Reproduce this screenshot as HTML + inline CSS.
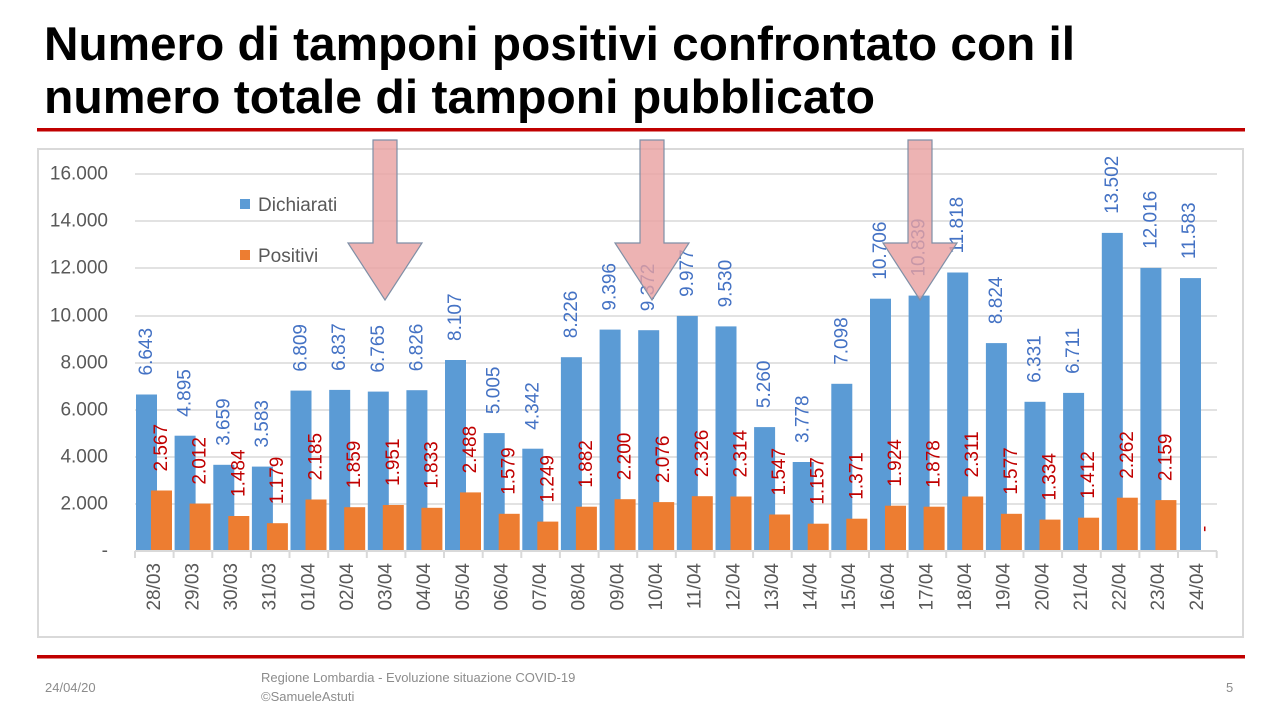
<!DOCTYPE html>
<html><head><meta charset="utf-8"><style>
html,body{margin:0;padding:0;background:#fff;width:1280px;height:720px;overflow:hidden}
svg{display:block;font-family:"Liberation Sans",sans-serif}
.b{fill:#5B9BD5}.o{fill:#ED7D31}
.lb{fill:#4472C4;font-size:19px}.lo{fill:#C00000;font-size:19px}
.ax{fill:#595959;font-size:19px}
.g{stroke:#D9D9D9;stroke-width:1.5}
</style></head><body>
<svg width="1280" height="720" viewBox="0 0 1280 720">
<text x="44" y="60" font-size="47" font-weight="bold" fill="#000" textLength="1031" lengthAdjust="spacingAndGlyphs">Numero di tamponi positivi confrontato con il</text>
<text x="44" y="113" font-size="47" font-weight="bold" fill="#000" textLength="831" lengthAdjust="spacingAndGlyphs">numero totale di tamponi pubblicato</text>
<rect x="37" y="128" width="1208" height="3.5" fill="#C00000"/>
<rect x="37" y="655" width="1208" height="3.5" fill="#C00000"/>
<rect x="38" y="149" width="1205" height="488" fill="none" stroke="#D9D9D9" stroke-width="2"/>
<g class="g">
<line x1="135" y1="174" x2="1217" y2="174"/><line x1="135" y1="221" x2="1217" y2="221"/>
<line x1="135" y1="268" x2="1217" y2="268"/><line x1="135" y1="316" x2="1217" y2="316"/>
<line x1="135" y1="363" x2="1217" y2="363"/><line x1="135" y1="410" x2="1217" y2="410"/>
<line x1="135" y1="457" x2="1217" y2="457"/><line x1="135" y1="504" x2="1217" y2="504"/>
</g>
<g class="ax" text-anchor="end" dominant-baseline="central">
<text x="108" y="174">16.000</text><text x="108" y="221">14.000</text><text x="108" y="268">12.000</text>
<text x="108" y="316">10.000</text><text x="108" y="363">8.000</text><text x="108" y="410">6.000</text>
<text x="108" y="457">4.000</text><text x="108" y="504">2.000</text><text x="108" y="551">-</text>
</g>
<rect x="240" y="199" width="10" height="10" class="b"/><text x="258" y="211" font-size="19" fill="#595959">Dichiarati</text>
<rect x="240" y="250" width="10" height="10" class="o"/><text x="258" y="262" font-size="19" fill="#595959">Positivi</text>
<g>
<rect x="136" y="394.5" width="21" height="156.5" class="b"/><rect x="151" y="490.5" width="21" height="60.5" class="o"/>
<rect x="174.6" y="435.7" width="21" height="115.3" class="b"/><rect x="189.6" y="503.6" width="21" height="47.4" class="o"/>
<rect x="213.3" y="464.8" width="21" height="86.2" class="b"/><rect x="228.3" y="516" width="21" height="35" class="o"/>
<rect x="251.9" y="466.6" width="21" height="84.4" class="b"/><rect x="266.9" y="523.2" width="21" height="27.8" class="o"/>
<rect x="290.5" y="390.6" width="21" height="160.4" class="b"/><rect x="305.5" y="499.5" width="21" height="51.5" class="o"/>
<rect x="329.2" y="389.9" width="21" height="161.1" class="b"/><rect x="344.2" y="507.2" width="21" height="43.8" class="o"/>
<rect x="367.8" y="391.6" width="21" height="159.4" class="b"/><rect x="382.8" y="505" width="21" height="46" class="o"/>
<rect x="406.4" y="390.2" width="21" height="160.8" class="b"/><rect x="421.4" y="507.8" width="21" height="43.2" class="o"/>
<rect x="445" y="360" width="21" height="191" class="b"/><rect x="460" y="492.4" width="21" height="58.6" class="o"/>
<rect x="483.7" y="433.1" width="21" height="117.9" class="b"/><rect x="498.7" y="513.8" width="21" height="37.2" class="o"/>
<rect x="522.3" y="448.7" width="21" height="102.3" class="b"/><rect x="537.3" y="521.6" width="21" height="29.4" class="o"/>
<rect x="560.9" y="357.2" width="21" height="193.8" class="b"/><rect x="575.9" y="506.7" width="21" height="44.3" class="o"/>
<rect x="599.6" y="329.6" width="21" height="221.4" class="b"/><rect x="614.6" y="499.2" width="21" height="51.8" class="o"/>
<rect x="638.2" y="330.2" width="21" height="220.8" class="b"/><rect x="653.2" y="502.1" width="21" height="48.9" class="o"/>
<rect x="676.8" y="315.9" width="21" height="235.1" class="b"/><rect x="691.8" y="496.2" width="21" height="54.8" class="o"/>
<rect x="715.5" y="326.4" width="21" height="224.6" class="b"/><rect x="730.5" y="496.5" width="21" height="54.5" class="o"/>
<rect x="754.1" y="427.1" width="21" height="123.9" class="b"/><rect x="769.1" y="514.5" width="21" height="36.5" class="o"/>
<rect x="792.7" y="462" width="21" height="89" class="b"/><rect x="807.7" y="523.7" width="21" height="27.3" class="o"/>
<rect x="831.3" y="383.8" width="21" height="167.2" class="b"/><rect x="846.3" y="518.7" width="21" height="32.3" class="o"/>
<rect x="870" y="298.7" width="21" height="252.3" class="b"/><rect x="885" y="505.7" width="21" height="45.3" class="o"/>
<rect x="908.6" y="295.6" width="21" height="255.4" class="b"/><rect x="923.6" y="506.7" width="21" height="44.3" class="o"/>
<rect x="947.2" y="272.5" width="21" height="278.5" class="b"/><rect x="962.2" y="496.5" width="21" height="54.5" class="o"/>
<rect x="985.9" y="343.1" width="21" height="207.9" class="b"/><rect x="1000.9" y="513.8" width="21" height="37.2" class="o"/>
<rect x="1024.5" y="401.8" width="21" height="149.2" class="b"/><rect x="1039.5" y="519.6" width="21" height="31.4" class="o"/>
<rect x="1063.1" y="392.9" width="21" height="158.1" class="b"/><rect x="1078.1" y="517.7" width="21" height="33.3" class="o"/>
<rect x="1101.8" y="232.9" width="21" height="318.1" class="b"/><rect x="1116.8" y="497.7" width="21" height="53.3" class="o"/>
<rect x="1140.4" y="267.9" width="21" height="283.1" class="b"/><rect x="1155.4" y="500.1" width="21" height="50.9" class="o"/>
<rect x="1180" y="278.1" width="21" height="272.9" class="b"/>
</g>
<line x1="135" y1="551" x2="1217" y2="551" stroke="#D9D9D9" stroke-width="2"/>
<g stroke="#D9D9D9" stroke-width="2">
<line x1="135" y1="551" x2="135" y2="558"/><line x1="173.6" y1="551" x2="173.6" y2="558"/><line x1="212.3" y1="551" x2="212.3" y2="558"/><line x1="250.9" y1="551" x2="250.9" y2="558"/><line x1="289.5" y1="551" x2="289.5" y2="558"/><line x1="328.2" y1="551" x2="328.2" y2="558"/><line x1="366.8" y1="551" x2="366.8" y2="558"/><line x1="405.4" y1="551" x2="405.4" y2="558"/><line x1="444" y1="551" x2="444" y2="558"/><line x1="482.7" y1="551" x2="482.7" y2="558"/><line x1="521.3" y1="551" x2="521.3" y2="558"/><line x1="559.9" y1="551" x2="559.9" y2="558"/><line x1="598.6" y1="551" x2="598.6" y2="558"/><line x1="637.2" y1="551" x2="637.2" y2="558"/><line x1="675.8" y1="551" x2="675.8" y2="558"/><line x1="714.5" y1="551" x2="714.5" y2="558"/><line x1="753.1" y1="551" x2="753.1" y2="558"/><line x1="791.7" y1="551" x2="791.7" y2="558"/><line x1="830.3" y1="551" x2="830.3" y2="558"/><line x1="869" y1="551" x2="869" y2="558"/><line x1="907.6" y1="551" x2="907.6" y2="558"/><line x1="946.2" y1="551" x2="946.2" y2="558"/><line x1="984.9" y1="551" x2="984.9" y2="558"/><line x1="1023.5" y1="551" x2="1023.5" y2="558"/><line x1="1062.1" y1="551" x2="1062.1" y2="558"/><line x1="1100.8" y1="551" x2="1100.8" y2="558"/><line x1="1139.4" y1="551" x2="1139.4" y2="558"/><line x1="1178" y1="551" x2="1178" y2="558"/><line x1="1216.7" y1="551" x2="1216.7" y2="558"/>
</g>
<g class="lb" dominant-baseline="central">
<text transform="translate(146.5,375.5) rotate(-90)">6.643</text>
<text transform="translate(185.1,416.7) rotate(-90)">4.895</text>
<text transform="translate(223.8,445.8) rotate(-90)">3.659</text>
<text transform="translate(262.4,447.6) rotate(-90)">3.583</text>
<text transform="translate(301,371.6) rotate(-90)">6.809</text>
<text transform="translate(339.7,370.9) rotate(-90)">6.837</text>
<text transform="translate(378.3,372.6) rotate(-90)">6.765</text>
<text transform="translate(416.9,371.2) rotate(-90)">6.826</text>
<text transform="translate(455.5,341) rotate(-90)">8.107</text>
<text transform="translate(494.2,414.1) rotate(-90)">5.005</text>
<text transform="translate(532.8,429.7) rotate(-90)">4.342</text>
<text transform="translate(571.4,338.2) rotate(-90)">8.226</text>
<text transform="translate(610.1,310.6) rotate(-90)">9.396</text>
<text transform="translate(648.7,311.2) rotate(-90)">9.372</text>
<text transform="translate(687.3,296.9) rotate(-90)">9.977</text>
<text transform="translate(726,307.4) rotate(-90)">9.530</text>
<text transform="translate(764.6,408.1) rotate(-90)">5.260</text>
<text transform="translate(803.2,443) rotate(-90)">3.778</text>
<text transform="translate(841.8,364.8) rotate(-90)">7.098</text>
<text transform="translate(880.5,279.7) rotate(-90)">10.706</text>
<text transform="translate(919.1,276.6) rotate(-90)">10.839</text>
<text transform="translate(957.7,253.5) rotate(-90)">11.818</text>
<text transform="translate(996.4,324.1) rotate(-90)">8.824</text>
<text transform="translate(1035,382.8) rotate(-90)">6.331</text>
<text transform="translate(1073.6,373.9) rotate(-90)">6.711</text>
<text transform="translate(1112.3,213.9) rotate(-90)">13.502</text>
<text transform="translate(1150.9,248.9) rotate(-90)">12.016</text>
<text transform="translate(1189.5,259.1) rotate(-90)">11.583</text>
</g>
<g class="lo" dominant-baseline="central">
<text transform="translate(161.5,471.5) rotate(-90)">2.567</text>
<text transform="translate(200.1,484.6) rotate(-90)">2.012</text>
<text transform="translate(238.8,497) rotate(-90)">1.484</text>
<text transform="translate(277.4,504.2) rotate(-90)">1.179</text>
<text transform="translate(316,480.5) rotate(-90)">2.185</text>
<text transform="translate(354.7,488.2) rotate(-90)">1.859</text>
<text transform="translate(393.3,486) rotate(-90)">1.951</text>
<text transform="translate(431.9,488.8) rotate(-90)">1.833</text>
<text transform="translate(470.5,473.4) rotate(-90)">2.488</text>
<text transform="translate(509.2,494.8) rotate(-90)">1.579</text>
<text transform="translate(547.8,502.6) rotate(-90)">1.249</text>
<text transform="translate(586.4,487.7) rotate(-90)">1.882</text>
<text transform="translate(625.1,480.2) rotate(-90)">2.200</text>
<text transform="translate(663.7,483.1) rotate(-90)">2.076</text>
<text transform="translate(702.3,477.2) rotate(-90)">2.326</text>
<text transform="translate(741,477.5) rotate(-90)">2.314</text>
<text transform="translate(779.6,495.5) rotate(-90)">1.547</text>
<text transform="translate(818.2,504.7) rotate(-90)">1.157</text>
<text transform="translate(856.8,499.7) rotate(-90)">1.371</text>
<text transform="translate(895.5,486.7) rotate(-90)">1.924</text>
<text transform="translate(934.1,487.7) rotate(-90)">1.878</text>
<text transform="translate(972.7,477.5) rotate(-90)">2.311</text>
<text transform="translate(1011.4,494.8) rotate(-90)">1.577</text>
<text transform="translate(1050,500.6) rotate(-90)">1.334</text>
<text transform="translate(1088.6,498.7) rotate(-90)">1.412</text>
<text transform="translate(1127.3,478.7) rotate(-90)">2.262</text>
<text transform="translate(1165.9,481.1) rotate(-90)">2.159</text>
<text transform="translate(1204.5,532) rotate(-90)">-</text>
</g>
<g class="ax" text-anchor="end" dominant-baseline="central">
<text transform="translate(154.3,563) rotate(-90)">28/03</text>
<text transform="translate(192.9,563) rotate(-90)">29/03</text>
<text transform="translate(231.6,563) rotate(-90)">30/03</text>
<text transform="translate(270.2,563) rotate(-90)">31/03</text>
<text transform="translate(308.8,563) rotate(-90)">01/04</text>
<text transform="translate(347.5,563) rotate(-90)">02/04</text>
<text transform="translate(386.1,563) rotate(-90)">03/04</text>
<text transform="translate(424.7,563) rotate(-90)">04/04</text>
<text transform="translate(463.3,563) rotate(-90)">05/04</text>
<text transform="translate(502,563) rotate(-90)">06/04</text>
<text transform="translate(540.6,563) rotate(-90)">07/04</text>
<text transform="translate(579.2,563) rotate(-90)">08/04</text>
<text transform="translate(617.9,563) rotate(-90)">09/04</text>
<text transform="translate(656.5,563) rotate(-90)">10/04</text>
<text transform="translate(695.1,563) rotate(-90)">11/04</text>
<text transform="translate(733.8,563) rotate(-90)">12/04</text>
<text transform="translate(772.4,563) rotate(-90)">13/04</text>
<text transform="translate(811,563) rotate(-90)">14/04</text>
<text transform="translate(849.6,563) rotate(-90)">15/04</text>
<text transform="translate(888.3,563) rotate(-90)">16/04</text>
<text transform="translate(926.9,563) rotate(-90)">17/04</text>
<text transform="translate(965.5,563) rotate(-90)">18/04</text>
<text transform="translate(1004.2,563) rotate(-90)">19/04</text>
<text transform="translate(1042.8,563) rotate(-90)">20/04</text>
<text transform="translate(1081.4,563) rotate(-90)">21/04</text>
<text transform="translate(1120.1,563) rotate(-90)">22/04</text>
<text transform="translate(1158.7,563) rotate(-90)">23/04</text>
<text transform="translate(1197.3,563) rotate(-90)">24/04</text>
</g>
<g fill="#E8A0A0" fill-opacity="0.8" stroke="#7F8FA6" stroke-width="1.2">
<polygon points="373,140 397,140 397,243 422,243 385,300 348,243 373,243"/>
<polygon points="640,140 664,140 664,243 689,243 652,300 615,243 640,243"/>
<polygon points="908,140 932,140 932,243 957,243 920,300 883,243 908,243"/>
</g>
<text x="45" y="692" font-size="13" fill="#8C8C8C">24/04/20</text>
<text x="261" y="682" font-size="13" fill="#8C8C8C">Regione Lombardia - Evoluzione situazione COVID-19</text>
<text x="261" y="701" font-size="13" fill="#8C8C8C">©SamueleAstuti</text>
<text x="1226" y="692" font-size="13" fill="#8C8C8C">5</text>
</svg>
</body></html>
